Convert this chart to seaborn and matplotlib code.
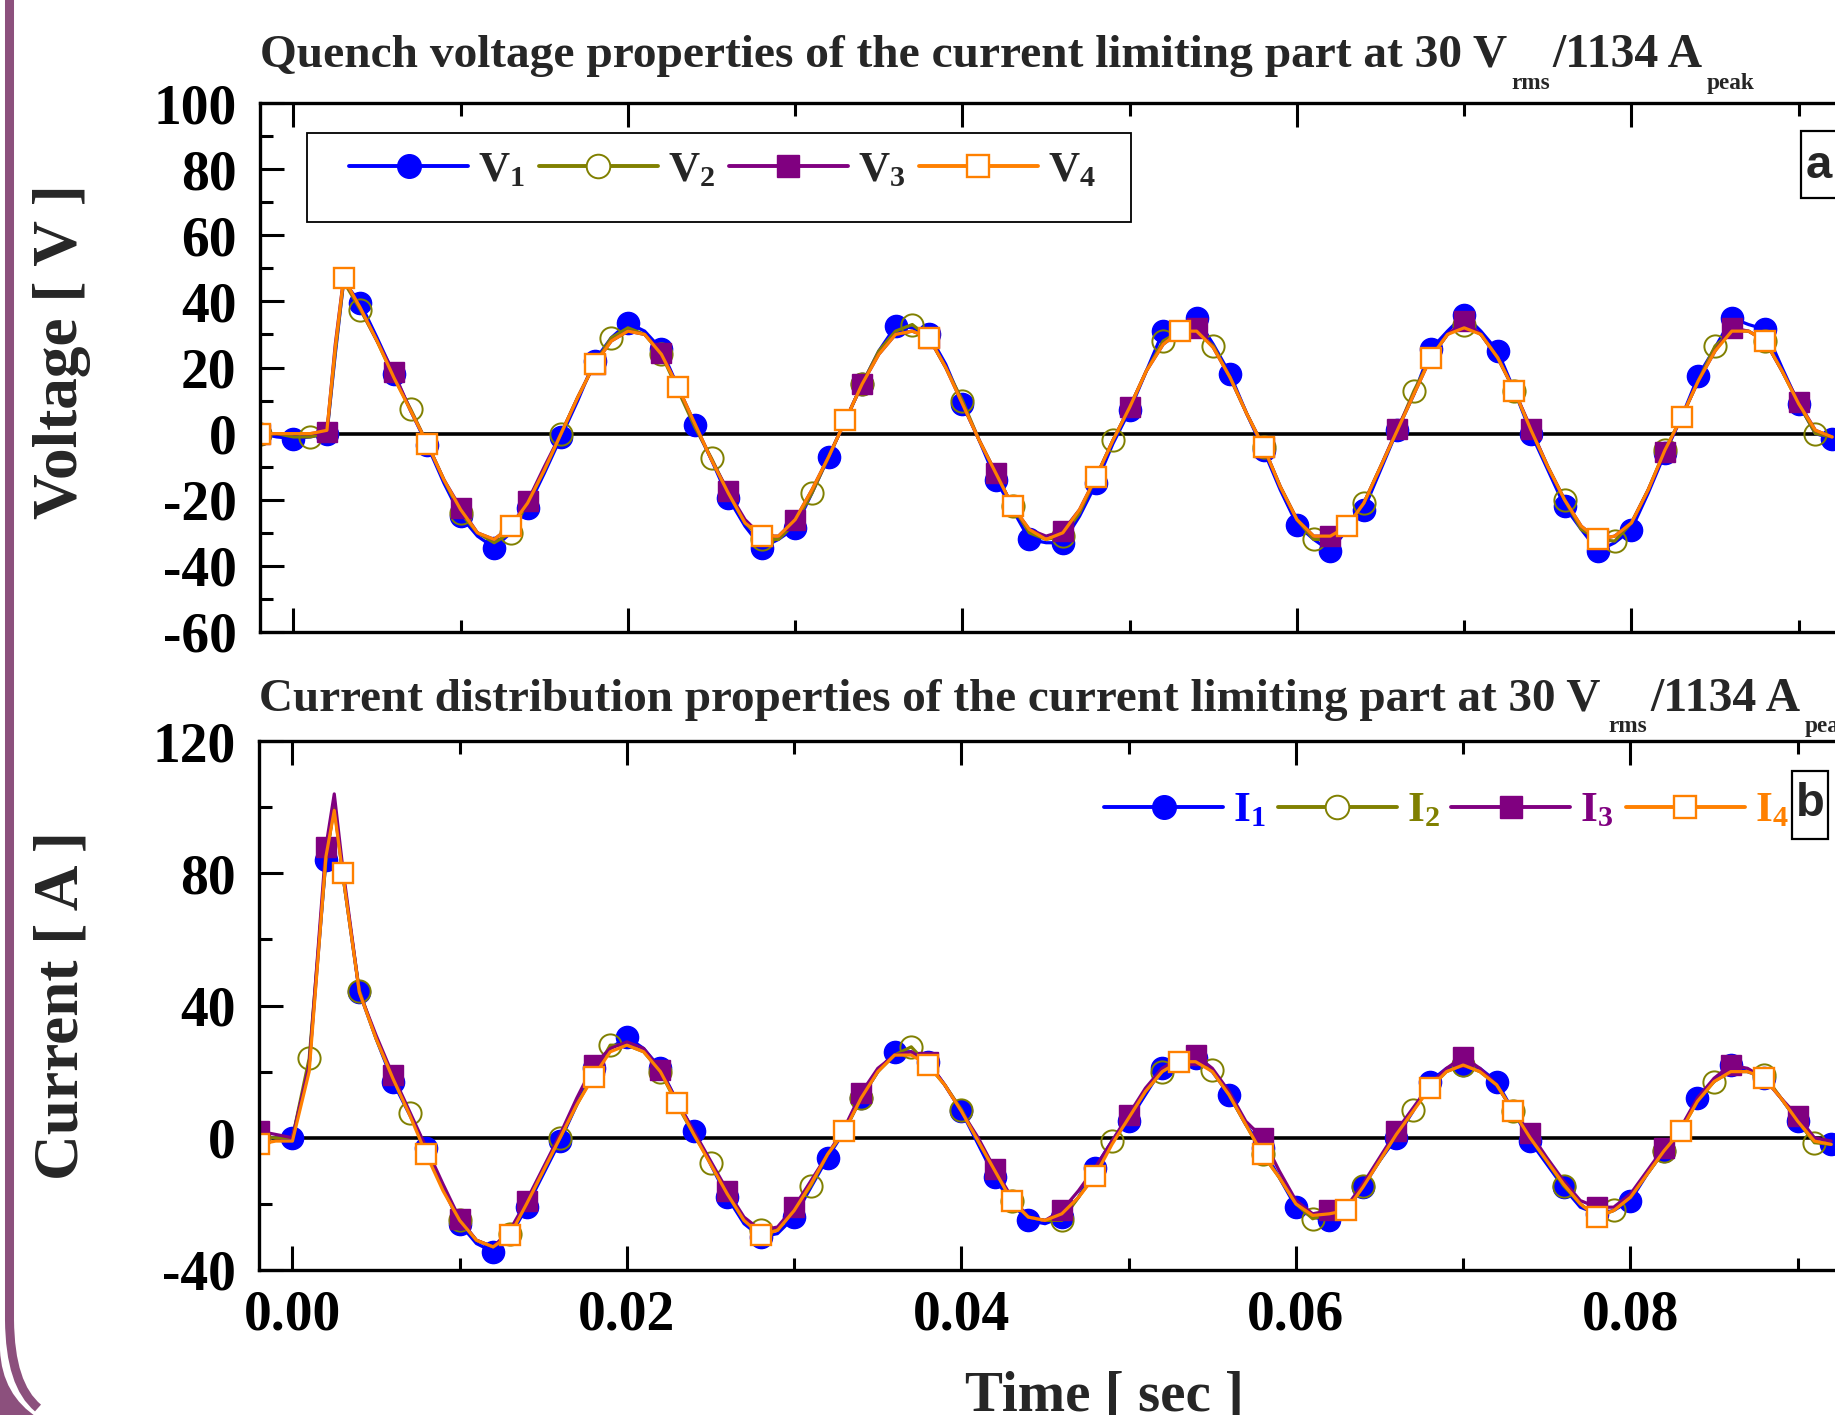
import numpy as np
import pandas as pd
import matplotlib
matplotlib.use("Agg")
import matplotlib.pyplot as plt
import seaborn as sns
from matplotlib.lines import Line2D
from matplotlib.patches import Rectangle, PathPatch
from matplotlib.path import Path
from matplotlib.ticker import MultipleLocator, FormatStrFormatter
import matplotlib.transforms as mtrans

# ---------------- data (time in ms) ----------------
time_ms = [-2, -1, 0, 1, 2, 2.5] + list(range(3, 93))

V1 = [0, -1, -1.5, -1, 0, 24, 46, 39.5, 29, 18,
      7, -3.5, -15, -25, -31, -34.5, -30, -22.5, -12, -1,
      10, 22, 29, 33.5, 31, 25.5, 14, 2.5, -8, -19.5,
      -28, -34.5, -32, -28.5, -18, -7, 4, 15, 25, 32.5,
      32, 30, 21, 9, -2, -14, -23, -32, -33, -33,
      -25, -15, -3, 7, 19, 31, 32, 35, 27, 18,
      6, -5, -17, -27.5, -32, -35.5, -29, -23, -11, 1,
      12, 25.5, 31, 36, 31, 25, 13, 0, -11, -22,
      -29, -35.5, -33, -29, -18, -6, 5, 17.5, 26, 35,
      33, 31.5, 20, 9, 0, -1.5]
V2 = [0, 0, -1, -1, 0, 25, 46, 37.5, 28, 17,
      7.5, -3, -14, -24, -30, -33, -30, -21, -11, 0,
      11, 21, 29, 32, 30, 24, 13, 2, -7.5, -18,
      -27, -32, -32, -27, -18, -7, 4, 15, 25, 31,
      33, 29, 20, 10, -2, -12, -22, -30, -32, -31,
      -24, -13, -2, 8, 19, 28, 31, 31, 26.5, 17,
      6, -4, -16, -26, -32, -32, -28, -21, -10, 1,
      13, 23, 30, 33, 30, 23, 13, 1, -10, -20,
      -29, -32, -32.5, -27, -17, -5, 5, 16, 26.5, 31,
      31, 28, 19, 9, 0, -1]
V3 = [0, 0, 0, 0, 0.5, 27, 47, 38, 28, 18.5,
      7, -3, -14, -22.5, -30, -32, -28, -20.5, -10, 0,
      11, 21, 28, 31, 30, 24.5, 14, 3, -8, -17.5,
      -26, -31, -31, -26, -17, -7, 4, 15, 24, 30,
      31, 29, 20, 9, -2, -12, -22, -29, -31, -29.5,
      -23, -13, -2, 8, 19, 27, 31, 32, 26, 17,
      6, -4, -16, -26, -31, -31, -28, -21, -10, 1.5,
      12, 23, 30, 34, 30, 23, 13, 1.5, -10, -20,
      -28, -32, -31, -27, -17, -5.5, 5, 16, 25, 32,
      31, 28, 19, 9.5, 1, -1]
V4 = [0, 0, 0, 0, 1, 26, 47, 38, 28, 17,
      7, -3, -14, -23, -30, -32, -28, -21, -11, 0,
      11, 21, 28, 31, 30, 24, 14, 3, -8, -18,
      -27, -31, -31, -26, -17, -7, 4, 15, 24, 30,
      31, 29, 20, 9, -2, -12, -22, -29, -32, -30,
      -23, -13, -2, 8, 19, 27, 31, 31, 26, 17,
      6, -4, -16, -26, -31, -31, -28, -21, -10, 1,
      12, 23, 30, 32, 30, 23, 13, 1, -10, -20,
      -28, -32, -31, -27, -17, -5, 5, 16, 25, 31,
      31, 28, 19, 9, 1, -1]

I1 = [0, 0, 0, 22, 84, 101, 80, 44, 30, 17,
      7, -3, -15, -26, -32, -34.5, -30, -21, -11, -1,
      10, 21, 27, 30.5, 27, 21, 11, 2, -8, -18,
      -26, -30, -29, -24, -15, -6, 2, 12, 20, 26,
      26, 23, 16, 8, -2, -12, -20, -25, -26, -24,
      -18, -9, -1, 5, 13, 21, 23, 24, 20, 13,
      4, -3, -12, -21, -24, -25, -22, -15, -7, 0,
      8, 17, 21, 22, 21, 17, 8, -1, -8, -15,
      -21, -23, -22, -19, -11, -4, 2, 12, 17, 22,
      20, 18, 12, 5, -1, -2]
I2 = [0, 0, 0, 24, 84, 100, 80, 44.5, 30, 18,
      7.5, -4, -15, -25, -31, -33, -29, -20, -10, 0,
      10, 19, 28, 28, 26, 20, 10, 1, -7.5, -17,
      -25, -28, -28, -22, -14.5, -5, 2, 12, 20, 25,
      27.5, 22, 16, 8.5, -1, -10, -19, -24, -25, -25,
      -18, -11, -1, 6, 14, 20, 23, 23, 20.5, 13,
      4, -5, -12, -20, -24.5, -23, -22, -14.5, -7, 1,
      8.5, 15, 20, 22, 20, 16, 8, 0, -7, -14.5,
      -20, -24, -22, -18, -11, -4, 2, 11, 17, 20,
      20, 19, 12, 5, -1.5, -2]
I3 = [2, 1, 0, 22, 88, 104, 82, 44, 31, 19,
      8, -3, -14, -24.5, -31, -33, -28, -19, -9, 1,
      12, 22, 27, 29, 27, 20.5, 11, 2, -7, -16,
      -24, -28, -27, -21, -13, -5, 3, 13.5, 21, 25,
      26, 23, 16, 8, 0, -9.5, -18, -24, -25, -22,
      -16, -9, -1, 7, 15, 21, 24, 25, 21, 14,
      5, 0, -10, -19, -23, -22, -21, -14, -6, 2,
      9, 16, 21, 24.5, 21, 16, 8, 1.5, -6, -13,
      -19, -21, -21, -17, -10, -3, 3, 12, 18, 22,
      21, 18, 12, 6.5, 0, -1]
I4 = [-2, -1, -1, 20, 85, 99, 80, 44, 30, 18,
      7, -5, -16, -25, -31, -33, -29.5, -20, -10, 0,
      10, 18.5, 26, 28, 26, 20, 10.5, 1, -8, -17,
      -25, -29.5, -28, -22, -14, -5, 2, 12, 20, 25,
      25, 22, 16, 8, -1, -10, -19, -24, -25, -23,
      -18, -11.5, -2, 6, 14, 20, 23, 23, 20, 13,
      4, -5, -12, -20, -23.5, -23, -22, -15, -7, 1,
      8, 15, 20, 22, 20, 16, 8, 0, -7, -14,
      -20, -24, -22, -18, -11, -4, 2, 11, 17, 20,
      20, 18, 12, 5, -1, -2]

v_labels = ["1", "2", "3", "4"]
title_top = "Quench voltage properties of the current limiting part at 30 V"
title_bot = "Current distribution properties of the current limiting part at 30 V"
sub_rms, mid_text, sub_peak = "rms", "/1134 A", "peak"
x_ticks = [0.00, 0.02, 0.04, 0.06, 0.08]

for arr in (V1, V2, V3, V4, I1, I2, I3, I4):
    assert len(arr) == len(time_ms)

time_s = np.array(time_ms) / 1000.0

# ---------------- style ----------------
sns.set_theme(style="white")
plt.rcParams['font.family'] = ['Liberation Serif', 'DejaVu Serif']
plt.rcParams['font.weight'] = 'bold'
plt.rcParams['mathtext.fontset'] = 'custom'
plt.rcParams['mathtext.rm'] = 'Liberation Serif:bold'
plt.rcParams['mathtext.bf'] = 'Liberation Serif:bold'
plt.rcParams['mathtext.it'] = 'Liberation Serif:bold'
plt.rcParams['axes.linewidth'] = 2.4
plt.rcParams['axes.unicode_minus'] = False

W, H, DPI = 1835, 1415, 100
fig = plt.figure(figsize=(W / DPI, H / DPI), dpi=DPI)
fig.patch.set_facecolor('white')
renderer = fig.canvas.get_renderer()

def rect(x0, ytop, x1, ybot):
    return [x0 / W, 1 - ybot / H, (x1 - x0) / W, (ybot - ytop) / H]

x_lo, x_hi = -0.002, 0.102
px_per_unit = 334.5 / 0.02
ax_w = (x_hi - x_lo) * px_per_unit
ax1 = fig.add_axes(rect(260, 103, 260 + ax_w, 632))
ax2 = fig.add_axes(rect(259, 741, 259 + ax_w, 1270))

colors = ['#0000FF', '#808000', '#800080', '#FF8000']
mk = ['o', 'o', 's', 's']
mfc = ['#0000FF', 'none', '#800080', 'white']
msz = [16, 16, 14.5, 15]
mew = [1.0, 1.4, 1.0, 1.7]
every = [2, 3, 4, 5]

def mark_idx(k):
    return [i for i, t in enumerate(time_ms)
            if float(t).is_integer() and (int(t) + 2) % k == 0]

def draw(ax, series):
    ax.axhline(0, color='black', lw=2.6, zorder=1.5)
    for j, ys in enumerate(series):
        sns.lineplot(x=time_s, y=np.array(ys, dtype=float), ax=ax,
                     color=colors[j], lw=2.3, marker=mk[j],
                     markevery=mark_idx(every[j]), markersize=msz[j],
                     markerfacecolor=mfc[j], markeredgecolor=colors[j],
                     markeredgewidth=mew[j], estimator=None, sort=False,
                     errorbar=None, legend=False, zorder=2 + j * 0.1)

draw(ax1, [V1, V2, V3, V4])
draw(ax2, [I1, I2, I3, I4])

for ax in (ax1, ax2):
    ax.set_xlim(x_lo, x_hi)
    ax.set_xticks(x_ticks)
    ax.xaxis.set_minor_locator(MultipleLocator(0.01))
    ax.xaxis.set_major_formatter(FormatStrFormatter('%.2f'))
    ax.tick_params(which='both', direction='in', top=True, right=True,
                   bottom=True, left=True, width=2.2, colors='black',
                   labelsize=40, pad=14)
    ax.tick_params(which='major', length=17)
    ax.tick_params(which='minor', length=9)
    ax.set_xlabel('')
    ax.set_ylabel('')
    for sp in ax.spines.values():
        sp.set_color('black')
        sp.set_linewidth(2.4)
    ax.grid(False)

ax1.set_ylim(-60, 100)
ax1.yaxis.set_major_locator(MultipleLocator(20))
ax1.yaxis.set_minor_locator(MultipleLocator(10))
ax1.tick_params(labelbottom=False)
ax2.set_ylim(-40, 120)
ax2.yaxis.set_major_locator(MultipleLocator(40))
ax2.yaxis.set_minor_locator(MultipleLocator(20))
ax1.tick_params(axis='y', pad=17)
ax2.tick_params(axis='y', pad=17)
ax2.tick_params(axis='x', pad=14)
for ax in (ax1, ax2):
    for lab in ax.get_xticklabels() + ax.get_yticklabels():
        lab.set_fontweight('bold')

# ---------------- text helpers ----------------
def fit_size(s, target, base=30.0, rotation=0, family=None):
    kw = dict(fontsize=base, rotation=rotation, fontweight='bold')
    if family:
        kw['family'] = family
    t = fig.text(0, 0, s, **kw)
    bb = t.get_window_extent(renderer)
    t.remove()
    L = bb.height if rotation == 90 else bb.width
    return base * target / L

def chain(x0, base_y, parts):
    x = x0
    for s, size, dy, gap in parts:
        t = fig.text(x / W, 1 - (base_y + dy) / H, s, fontsize=size,
                     fontweight='bold', ha='left', va='baseline')
        x += t.get_window_extent(renderer).width + gap

top_sz = fit_size(title_top, 1245)
bot_sz = fit_size(title_bot, 1339)
mid_sz = fit_size(mid_text, 150)
sub_sz = fit_size(sub_peak, 48)
chain(260, 67, [(title_top, top_sz, 0, 4), (sub_rms, sub_sz, 22, 3),
                (mid_text, mid_sz, 0, 4), (sub_peak, sub_sz, 22, 0)])
chain(259, 711, [(title_bot, bot_sz, 0, 8), (sub_rms, sub_sz, 21, 3),
                 (mid_text, mid_sz, 0, 4), (sub_peak, sub_sz, 21, 0)])

ylab_sz = fit_size('Voltage [ V ]', 318, rotation=90) * 1.05
fig.text(62 / W, 1 - 352 / H, 'Voltage [ V ]', rotation=90, ha='center',
         va='center', fontsize=ylab_sz, fontweight='bold')
fig.text(62 / W, 1 - 1005 / H, 'Current [ A ]', rotation=90, ha='center',
         va='center', fontsize=ylab_sz, fontweight='bold')
xlab_sz = fit_size('Time [ sec ]', 278)
fig.text(1104 / W, 1 - 1410 / H, 'Time [ sec ]', ha='center', va='baseline',
         fontsize=xlab_sz, fontweight='bold')

# ---------------- legends ----------------
def handles():
    return [Line2D([], [], color=colors[j], lw=2.8, marker=mk[j],
                   markersize=msz[j] + 1,
                   markerfacecolor=mfc[j] if mfc[j] != 'none' else 'white',
                   markeredgecolor=colors[j], markeredgewidth=mew[j])
            for j in range(4)]

leg_fs = 31
em = leg_fs * DPI / 72.0
leg1 = ax1.legend(handles(), [r'$\mathrm{V}_{%s}$' % s for s in v_labels],
                  loc='center left', bbox_to_anchor=(349 / W, 1 - 171 / H),
                  bbox_transform=fig.transFigure, ncol=4, frameon=False,
                  borderpad=0, borderaxespad=0, handlelength=119 / em,
                  handletextpad=10 / em, columnspacing=0.32,
                  prop={'family': 'Liberation Serif', 'weight': 'bold', 'size': leg_fs})
fig.add_artist(Rectangle((307, H - 222), 1131 - 307, 89, transform=mtrans.IdentityTransform(),
                         fill=False, ec='black', lw=1.3, zorder=5))

leg2 = ax2.legend(handles(), [r'$\mathrm{I}_{%s}$' % s for s in v_labels],
                  loc='center left', bbox_to_anchor=(1104 / W, 1 - 811 / H),
                  bbox_transform=fig.transFigure, ncol=4, frameon=False,
                  borderpad=0, borderaxespad=0, handlelength=119 / em,
                  handletextpad=10 / em, columnspacing=0.28,
                  prop={'family': 'Liberation Serif', 'weight': 'bold', 'size': leg_fs})
for txt, c in zip(leg2.get_texts(), colors):
    txt.set_color(c)

# panel letters
for (x0, y0, x1, y1, letter, cx, cy) in [(1801, 131, 1850, 198, 'a', 1819, 166),
                                        (1792, 771, 1828, 839, 'b', 1810, 804)]:
    fig.add_artist(Rectangle((x0, H - y1), x1 - x0, y1 - y0, transform=mtrans.IdentityTransform(),
                             fc='white', ec='black', lw=1.6, zorder=6))
    fig.text(cx / W, 1 - cy / H, letter, ha='center', va='center', fontsize=34,
             family='Liberation Sans', fontweight='bold', zorder=7)

# decorative purple frame at the left
purple = '#8C507D'
ident = mtrans.IdentityTransform()
band = Path([(9.5, H), (9.5, H - 1320), (10, H - 1385), (38, H - 1408)],
            [Path.MOVETO, Path.LINETO, Path.CURVE3, Path.CURVE3])
fig.add_artist(PathPatch(band, fill=False, ec=purple, lw=6.5, capstyle='butt', transform=ident))
outer = Path([(0, H - 1350), (2, H - 1395), (38, H - 1418), (38, H - 1420), (0, H - 1420), (0, H - 1350)],
             [Path.MOVETO, Path.CURVE3, Path.CURVE3, Path.LINETO, Path.LINETO, Path.CLOSEPOLY])
fig.add_artist(PathPatch(outer, fc=purple, ec='none', transform=ident))

fig.savefig('out.png', dpi=DPI, facecolor='white')
